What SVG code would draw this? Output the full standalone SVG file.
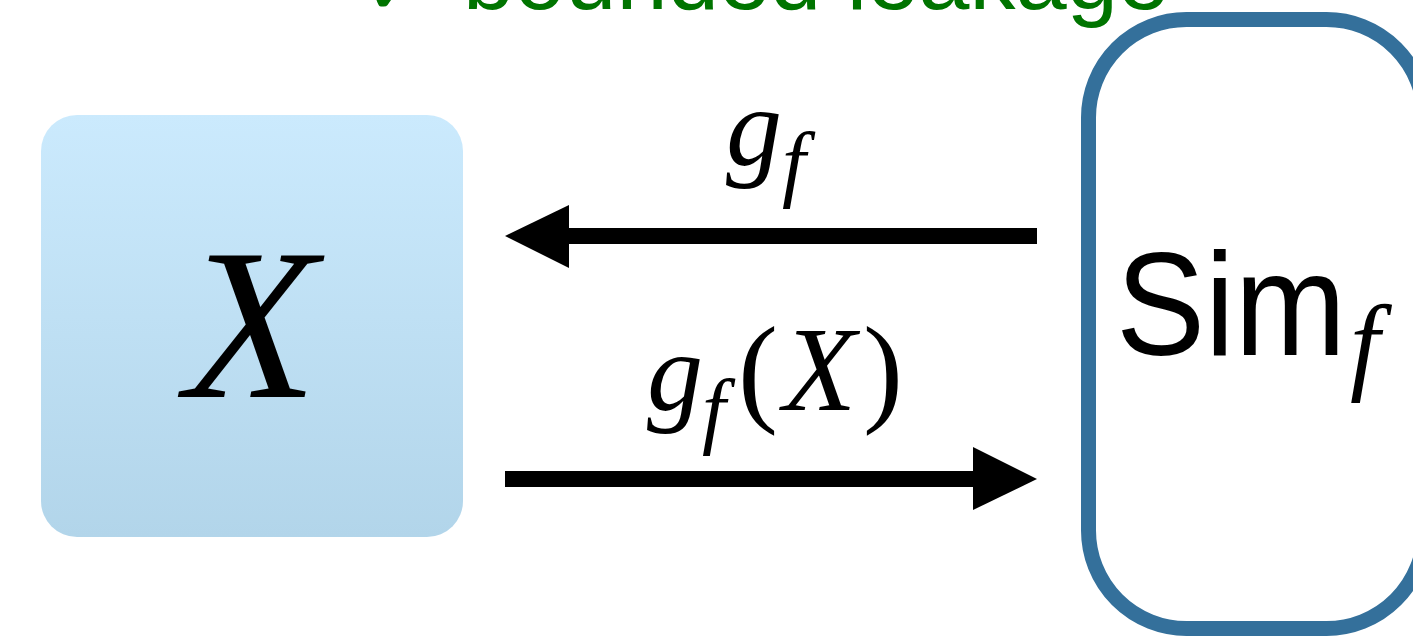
<svg xmlns="http://www.w3.org/2000/svg" width="1413" height="637" viewBox="0 0 1413 637">
  <defs>
    <linearGradient id="boxGrad" x1="0" y1="0" x2="0" y2="1">
      <stop offset="0" stop-color="#cbeafd"/>
      <stop offset="1" stop-color="#b2d5ea"/>
    </linearGradient>
    <style>
      .math { font-family: "Liberation Serif", "Times New Roman", serif; font-style: italic; fill: #000; }
      .up { font-family: "Liberation Serif", "Times New Roman", serif; font-style: normal; fill: #000; }
      .sans { font-family: "Liberation Sans", Arial, sans-serif; fill: #000; }
      .arrow { fill: #000; stroke: none; }
    </style>
  </defs>
  <rect width="1413" height="637" fill="#ffffff"/>

  <g id="title">
    <text x="361" y="15" font-family="'DejaVu Sans', sans-serif" font-size="88" fill="#007400">✓</text>
    <text x="463" y="9" font-family="'Liberation Sans', Arial, sans-serif" font-size="92" fill="#007400">bounded leakage</text>
  </g>

  <g id="node-x">
    <rect x="41" y="115" width="422" height="422" rx="36" ry="36" fill="url(#boxGrad)"/>
    <text class="math" x="185" y="397" font-size="217">X</text>
  </g>

  <g id="node-sim">
    <rect x="1088.5" y="19.5" width="336" height="609" rx="98" ry="98" fill="#ffffff" stroke="#34709b" stroke-width="15"/>
    <text class="sans" x="1116" y="355" font-size="146" textLength="230" lengthAdjust="spacingAndGlyphs">Sim</text>
    <text class="math" x="1350" y="380" font-size="107">f</text>
  </g>

  <g id="connectors">
    <g id="edge-sim-to-x">
      <rect class="arrow" x="568" y="228" width="469" height="16"/>
      <polygon class="arrow" points="505,236 569,205 569,268"/>
      <text class="math" x="726" y="165" font-size="112">g</text>
      <text class="math" x="782" y="191" font-size="85">f</text>
    </g>
    <g id="edge-x-to-sim">
      <rect class="arrow" x="505" y="471" width="469" height="16"/>
      <polygon class="arrow" points="1037,479 973,447 973,510"/>
      <text class="math" x="647" y="410" font-size="112">g</text>
      <text class="math" x="702" y="438" font-size="85">f</text>
      <text class="up" x="738" y="410" font-size="120">(</text>
      <text class="math" x="783" y="410" font-size="120">X</text>
      <text class="up" x="863" y="410" font-size="120">)</text>
    </g>
  </g>
</svg>
